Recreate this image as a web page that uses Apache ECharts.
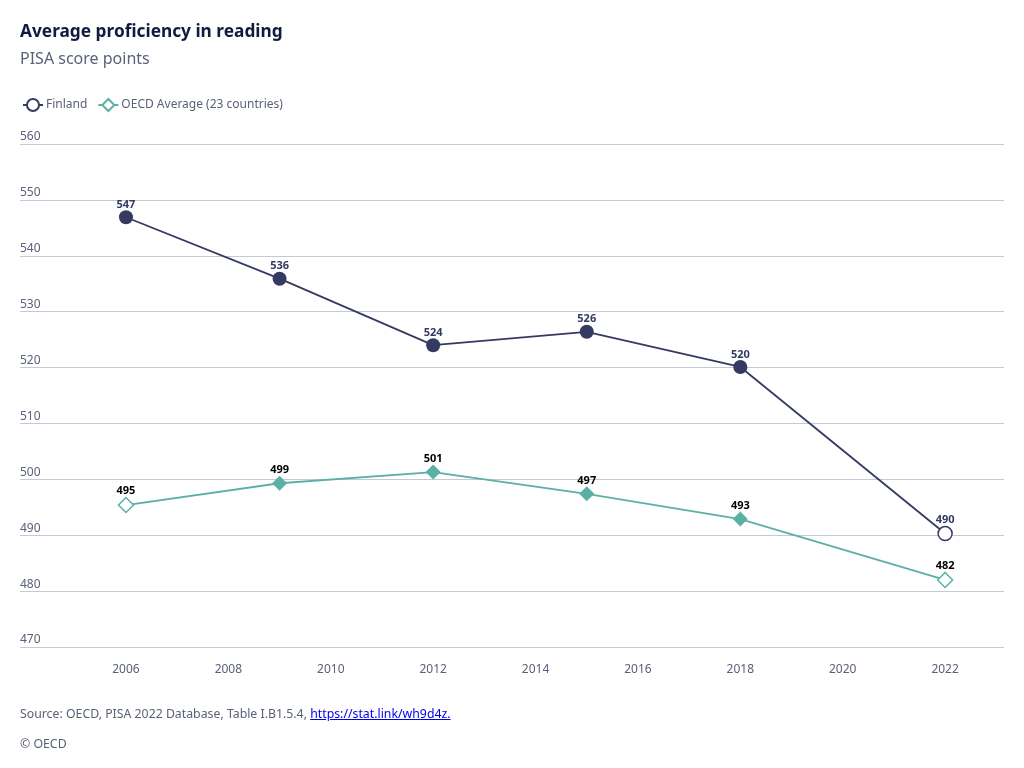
<!DOCTYPE html>
<html>
<head>
<meta charset="utf-8">
<script src="https://cdn.jsdelivr.net/npm/echarts@6/dist/echarts.min.js"></script>
<style>
html,body{margin:0;padding:0;background:#fff;}
#chart{width:1024px;height:768px;position:absolute;left:0;top:0;}
.foot{position:absolute;left:20px;font-family:"Noto Sans",sans-serif;font-size:12.3px;color:#5a6178;}
.foot a{color:#0000ee;text-decoration:underline;}
</style>
</head>
<body>
<div id="chart"></div>
<div class="foot" style="top:705px;">Source: OECD, PISA 2022 Database, Table I.B1.5.4, <a href="https://stat.link/wh9d4z">https://stat.link/wh9d4z.</a></div>
<div class="foot" style="top:735px;">© OECD</div>
<script>
var years = [2006, 2009, 2012, 2015, 2018, 2022];
var finland = [546.9, 535.9, 524.0, 526.4, 520.1, 490.3];
var oecd = [495.4, 499.3, 501.3, 497.4, 492.9, 482.0];
var xTicks = [2006, 2008, 2010, 2012, 2014, 2016, 2018, 2020, 2022];
var finlandHollow = [2022];
var oecdHollow = [2006, 2022];

var navy = '#353a63';
var teal = '#5bb0a6';

function build(vals, hollow, color) {
  return years.map(function (y, i) {
    var d = { value: [y, vals[i]] };
    if (hollow.indexOf(y) >= 0) {
      d.itemStyle = { color: '#ffffff', borderColor: color, borderWidth: 1.5 };
    }
    return d;
  });
}

var chart = echarts.init(document.getElementById('chart'));
chart.setOption({
  animation: false,
  textStyle: { fontFamily: 'Noto Sans' },
  title: [
    { text: 'Average proficiency in reading', left: 15, top: 19,
      textStyle: { fontSize: 17.3, fontWeight: 'bold', color: '#101b3e', fontFamily: 'Noto Sans' } },
    { text: 'PISA score points', left: 15, top: 46,
      textStyle: { fontSize: 16, fontWeight: 'normal', color: '#5a6178', fontFamily: 'Noto Sans' } }
  ],
  legend: {
    left: 17, top: 93, itemWidth: 20, itemHeight: 15, itemGap: 10,
    textStyle: { fontSize: 12, color: '#5a6178', fontFamily: 'Noto Sans', padding: [0, 0, 0, -2] },
    data: [
      { name: 'Finland', itemStyle: { color: '#fff', borderColor: navy, borderWidth: 2 } },
      { name: 'OECD Average (23 countries)', itemStyle: { color: '#fff', borderColor: teal, borderWidth: 2 } }
    ]
  },
  grid: { left: 20, right: 20, top: 144, bottom: 121, containLabel: false },
  xAxis: {
    type: 'value', min: 2003.93, max: 2023.15,
    axisLine: { show: false }, axisTick: { show: false }, splitLine: { show: false },
    axisLabel: { customValues: xTicks, color: '#5a6178', fontSize: 12, margin: 17, fontFamily: 'Noto Sans',
      formatter: function (v) { return String(v); } }
  },
  yAxis: {
    type: 'value', min: 470, max: 560, interval: 10,
    axisLine: { show: false }, axisTick: { show: false },
    splitLine: { lineStyle: { color: '#c5c9d3', width: 1 } },
    axisLabel: { inside: true, margin: 0, align: 'left', verticalAlign: 'bottom', padding: [0, 0, 1, 0],
      color: '#5a6178', fontSize: 12, showMinLabel: true, showMaxLabel: true, fontFamily: 'Noto Sans' }
  },
  series: [
    {
      name: 'Finland', type: 'line', data: build(finland, finlandHollow, navy),
      symbol: 'circle', symbolSize: 14, color: navy,
      lineStyle: { color: navy, width: 1.8 },
      itemStyle: { color: navy },
      label: { show: true, position: 'top', distance: 0, fontSize: 11, fontWeight: 'bold', color: navy,
        fontFamily: 'Noto Sans', formatter: function (p) { return Math.round(p.value[1]); } },
      z: 3
    },
    {
      name: 'OECD Average (23 countries)', type: 'line', data: build(oecd, oecdHollow, teal),
      symbol: 'diamond', symbolSize: 15, color: teal,
      lineStyle: { color: teal, width: 1.8 },
      itemStyle: { color: teal },
      label: { show: true, position: 'top', distance: 0, fontSize: 11, fontWeight: 'bold', color: '#000',
        fontFamily: 'Noto Sans', formatter: function (p) { return Math.round(p.value[1]); } },
      z: 2
    }
  ]
});
</script>
</body>
</html>
